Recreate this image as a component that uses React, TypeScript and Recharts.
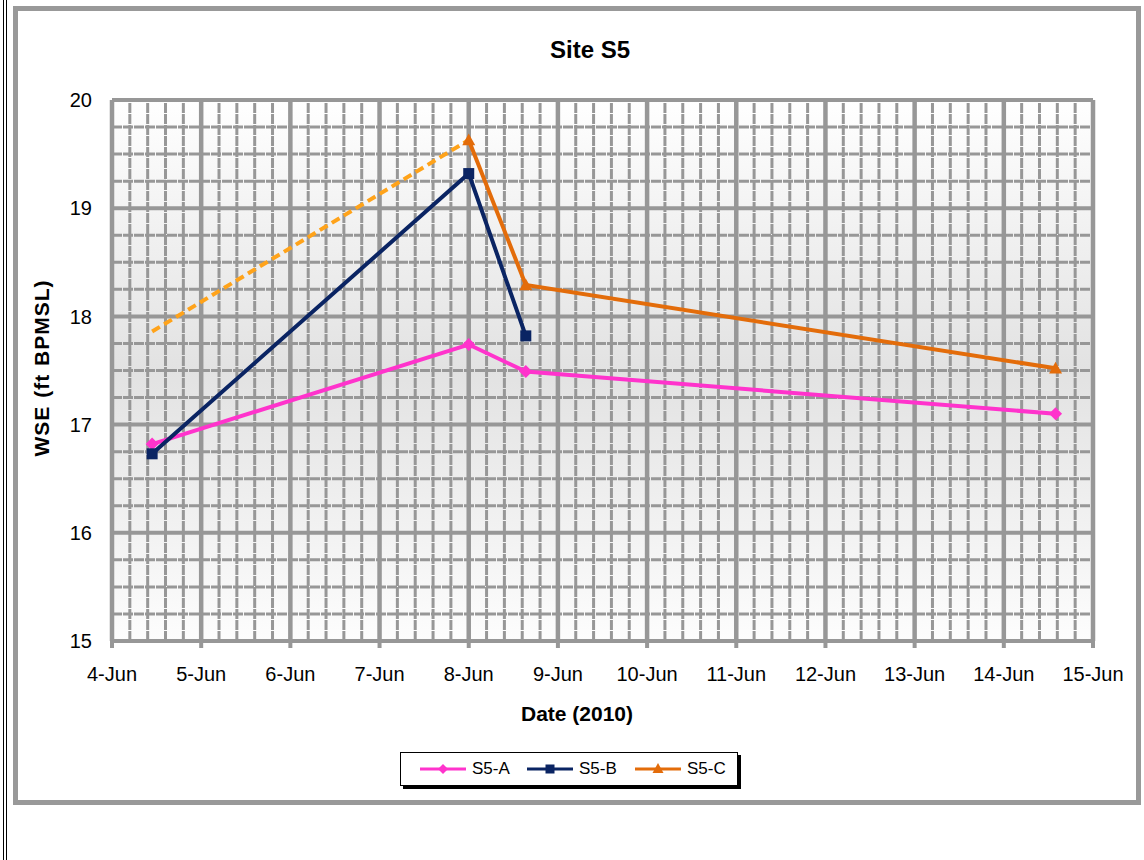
import { LineChart, Line, XAxis, YAxis, ReferenceLine, ReferenceArea } from 'recharts';

// day of June (fractional) for each reading
const datesA = [4.45, 8.0, 8.64, 14.58];
const wseA = [16.82, 17.74, 17.49, 17.1];

const datesB = [4.45, 8.0, 8.64];
const wseB = [16.73, 19.32, 17.82];

const datesC = [8.0, 8.64, 14.58];
const wseC = [19.63, 18.29, 17.52];

// estimated segment for S5-C (dashed, no marker)
const datesCEst = [4.45, 8.0];
const wseCEst = [17.86, 19.63];

const xTicks = [4, 5, 6, 7, 8, 9, 10, 11, 12, 13, 14, 15];
const yTicks = [15, 16, 17, 18, 19, 20];

const zip = (xs: number[], ys: number[]) => xs.map((x, i) => ({ x, y: ys[i] }));

const dataA = zip(datesA, wseA);
const dataB = zip(datesB, wseB);
const dataC = zip(datesC, wseC);
const dataCEst = zip(datesCEst, wseCEst);

// minor grid every 0.2 day / 0.25 ft
const minorX: number[] = [];
for (let d = 4; d < 15; d++) for (let k = 1; k < 5; k++) minorX.push(+(d + k * 0.2).toFixed(2));
const minorY: number[] = [];
for (let v = 15; v < 20; v++) for (let k = 1; k < 4; k++) minorY.push(v + k * 0.25);

const PINK = '#ff33cc';
const NAVY = '#0a2463';
const ORANGE = '#e36c0a';
const LIGHT_ORANGE = '#ffa31a';
const GRID = '#979797';
const FONT = '"Liberation Sans", Arial, sans-serif';

const diamondDot = (props: any) => {
  const { cx, cy } = props;
  if (cx == null || cy == null) return <g key={Math.random()} />;
  const r = 6.5;
  return <path key={`a-${cx}-${cy}`} d={`M${cx},${cy - r}L${cx + r},${cy}L${cx},${cy + r}L${cx - r},${cy}Z`} fill={PINK} />;
};

const squareDot = (props: any) => {
  const { cx, cy } = props;
  if (cx == null || cy == null) return <g key={Math.random()} />;
  return <rect key={`b-${cx}-${cy}`} x={cx - 5.5} y={cy - 5.5} width={11} height={11} fill={NAVY} />;
};

const triangleDot = (props: any) => {
  const { cx, cy } = props;
  if (cx == null || cy == null) return <g key={Math.random()} />;
  const r = 6.5;
  return <path key={`c-${cx}-${cy}`} d={`M${cx},${cy - r}L${cx + r},${cy + r * 0.8}L${cx - r},${cy + r * 0.8}Z`} fill={ORANGE} />;
};

function LegendItem({ color, label, marker, left }: { color: string; label: string; marker: 'd' | 's' | 't'; left: number }) {
  return (
    <div style={{ position: 'absolute', left, top: 0, height: 31, display: 'flex', alignItems: 'center', whiteSpace: 'nowrap' }}>
      <svg width={48} height={14}>
        <line x1={1} y1={7} x2={47} y2={7} stroke={color} strokeWidth={3} />
        {marker === 'd' && <path d="M24,2L29,7L24,12L19,7Z" fill={color} />}
        {marker === 's' && <rect x={19.5} y={2.5} width={9} height={9} fill={color} />}
        {marker === 't' && <path d="M24,1L29.5,11L18.5,11Z" fill={color} />}
      </svg>
      <span style={{ marginLeft: 5, fontSize: 17 }}>{label}</span>
    </div>
  );
}

export default function App() {
  return (
    <div style={{ position: 'absolute', left: 0, top: 0, width: 1144, height: 860, background: '#fff', fontFamily: FONT }}>
      {/* page edge lines */}
      <div style={{ position: 'absolute', left: 3, top: 0, width: 1, height: 860, background: '#000' }} />
      <div style={{ position: 'absolute', left: 6, top: 0, width: 1, height: 860, background: '#000' }} />
      {/* chart frame */}
      <div style={{ position: 'absolute', left: 13, top: 6, width: 1128, height: 799, boxSizing: 'border-box', border: '5px solid #999' }} />

      <div style={{ position: 'absolute', left: 0, top: 0 }}>
        <LineChart width={1144} height={860} margin={{ top: 100, right: 51, bottom: 179, left: 52 }}>
          <defs>
            <linearGradient id="plotBg" x1="0" y1="0" x2="0" y2="1">
              <stop offset="0%" stopColor="#ffffff" />
              <stop offset="50%" stopColor="#e2e2e2" />
              <stop offset="100%" stopColor="#fdfdfd" />
            </linearGradient>
          </defs>
          <XAxis
            type="number"
            dataKey="x"
            domain={[4, 15]}
            ticks={xTicks}
            tickFormatter={(v: number) => `${v}-Jun`}
            height={40}
            allowDataOverflow
            axisLine={{ stroke: GRID, strokeWidth: 4 }}
            tickLine={{ stroke: GRID, strokeWidth: 4 }}
            tickSize={7}
            tickMargin={19}
            tick={{ fontSize: 20, fill: '#000', fontFamily: FONT }}
          />
          <YAxis
            type="number"
            domain={[15, 20]}
            ticks={yTicks}
            width={60}
            allowDataOverflow
            axisLine={{ stroke: GRID, strokeWidth: 4 }}
            tickLine={false}
            tickSize={6}
            tickMargin={14}
            tick={{ fontSize: 20, fill: '#000', fontFamily: FONT }}
          />
          <ReferenceArea x1={4} x2={15} y1={15} y2={20} fill="url(#plotBg)" fillOpacity={1} stroke="none" />
          {minorX.map((v) => (
            <ReferenceLine key={`mx${v}`} x={v} stroke={GRID} strokeWidth={3} strokeDasharray="10 1" />
          ))}
          {minorY.map((v) => (
            <ReferenceLine key={`my${v}`} y={v} stroke={GRID} strokeWidth={3} strokeDasharray="10 1" />
          ))}
          {xTicks.map((v) => (
            <ReferenceLine key={`Mx${v}`} x={v} stroke={GRID} strokeWidth={4.5} />
          ))}
          {yTicks.map((v) => (
            <ReferenceLine key={`My${v}`} y={v} stroke={GRID} strokeWidth={4} />
          ))}
          <Line data={dataCEst} dataKey="y" type="linear" stroke={LIGHT_ORANGE} strokeWidth={4} strokeDasharray="9 5" dot={false} activeDot={false} isAnimationActive={false} legendType="none" />
          <Line data={dataA} dataKey="y" name="S5-A" type="linear" stroke={PINK} strokeWidth={4} dot={diamondDot} activeDot={false} isAnimationActive={false} />
          <Line data={dataB} dataKey="y" name="S5-B" type="linear" stroke={NAVY} strokeWidth={4} dot={squareDot} activeDot={false} isAnimationActive={false} />
          <Line data={dataC} dataKey="y" name="S5-C" type="linear" stroke={ORANGE} strokeWidth={4} dot={triangleDot} activeDot={false} isAnimationActive={false} />
        </LineChart>
      </div>

      {/* title and axis titles */}
      <div style={{ position: 'absolute', left: 490, top: 36, width: 200, textAlign: 'center', fontWeight: 'bold', fontSize: 24 }}>Site S5</div>
      <div style={{ position: 'absolute', left: 477, top: 702, width: 200, textAlign: 'center', fontWeight: 'bold', fontSize: 21 }}>Date (2010)</div>
      <div
        style={{
          position: 'absolute',
          left: 42 - 120,
          top: 370 - 14,
          width: 240,
          textAlign: 'center',
          fontWeight: 'bold',
          fontSize: 21,
          letterSpacing: 1,
          wordSpacing: 1,
          transform: 'rotate(-90deg)',
        }}
      >
        WSE (ft BPMSL)
      </div>

      {/* legend */}
      <div
        style={{
          position: 'absolute',
          left: 400,
          top: 752,
          width: 338,
          height: 34,
          boxSizing: 'border-box',
          border: '1.5px solid #000',
          boxShadow: '3px 3px 0 #000',
          background: '#fff',
        }}
      >
        <LegendItem color={PINK} label="S5-A" marker="d" left={18} />
        <LegendItem color={NAVY} label="S5-B" marker="s" left={125} />
        <LegendItem color={ORANGE} label="S5-C" marker="t" left={233} />
      </div>
    </div>
  );
}
